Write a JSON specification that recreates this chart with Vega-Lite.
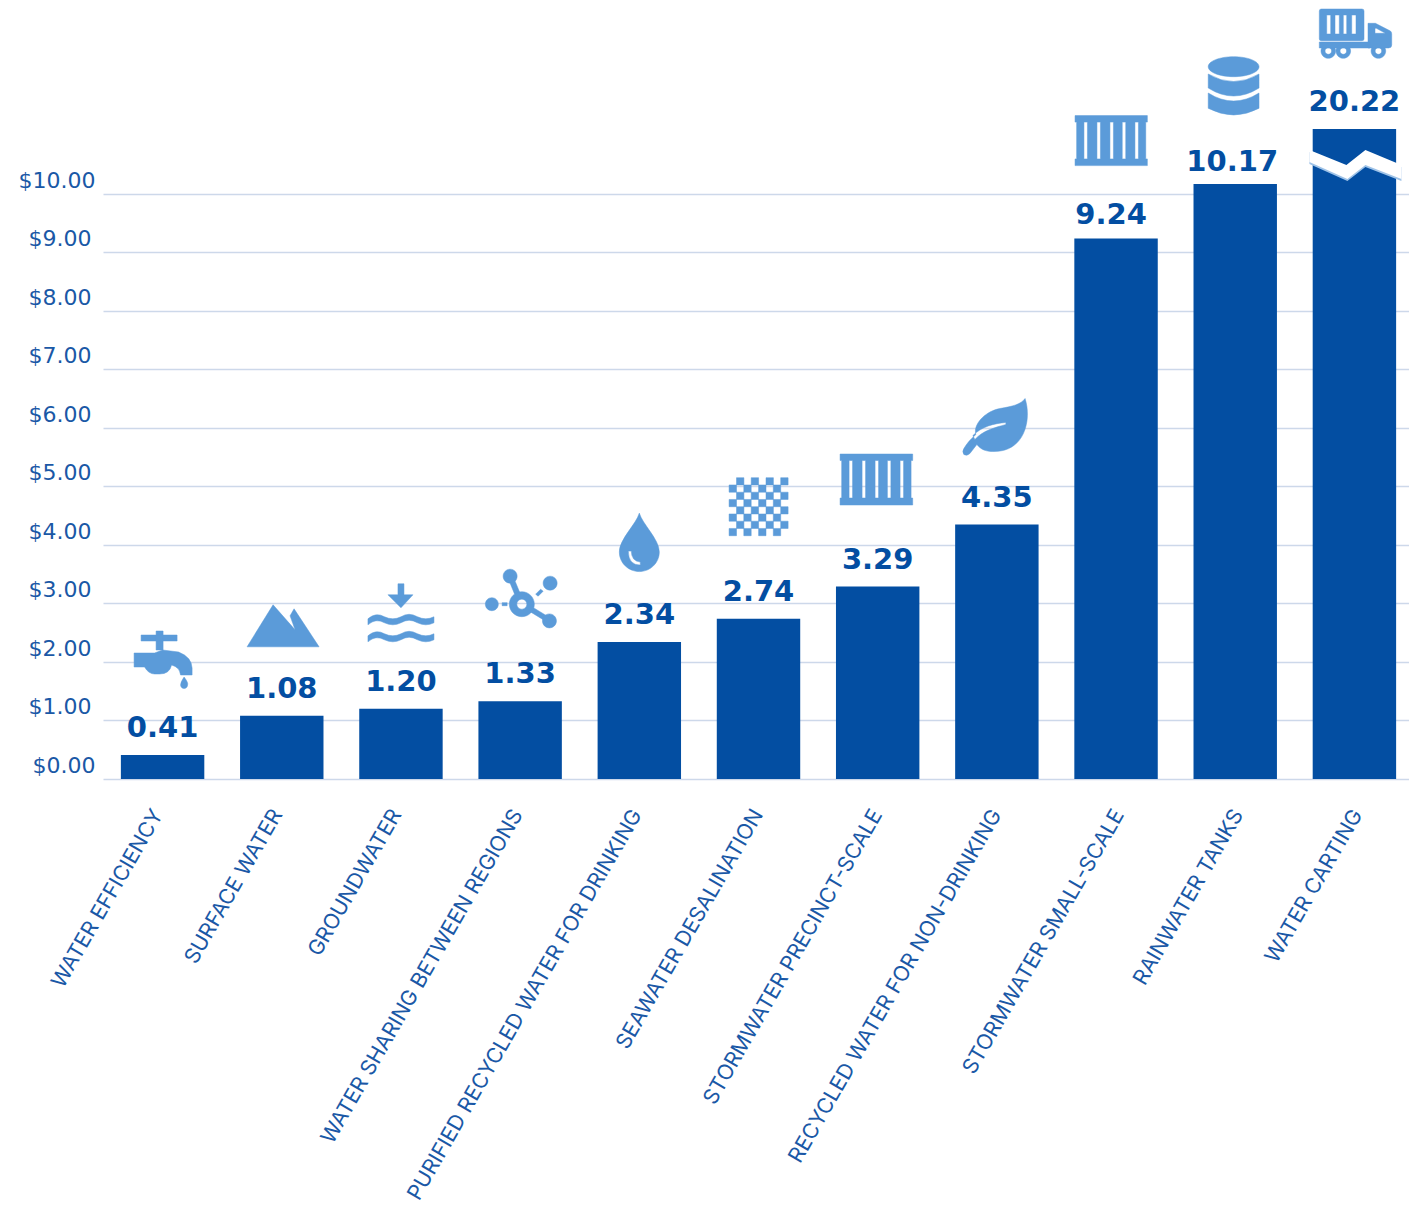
{
  "$schema": "https://vega.github.io/schema/vega-lite/v6.json",
  "width": 1306,
  "height": 779,
  "autosize": {"type": "none"},
  "padding": {"left": 103, "top": 0, "right": 0, "bottom": 431},
  "background": "white",
  "config": {"view": {"stroke": null}, "font": "Inter"},
  "data": {"values": [
    {"source": "WATER EFFICIENCY", "cost": 0.41, "icon": "tap"},
    {"source": "SURFACE WATER", "cost": 1.08, "icon": "mountain"},
    {"source": "GROUNDWATER", "cost": 1.20, "icon": "aquifer"},
    {"source": "WATER SHARING BETWEEN REGIONS", "cost": 1.33, "icon": "network"},
    {"source": "PURIFIED RECYCLED WATER FOR DRINKING", "cost": 2.34, "icon": "drop"},
    {"source": "SEAWATER DESALINATION", "cost": 2.74, "icon": "membrane"},
    {"source": "STORMWATER PRECINCT-SCALE", "cost": 3.29, "icon": "tank"},
    {"source": "RECYCLED WATER FOR NON-DRINKING", "cost": 4.35, "icon": "leaf"},
    {"source": "STORMWATER SMALL-SCALE", "cost": 9.24, "icon": "tankSmall"},
    {"source": "RAINWATER TANKS", "cost": 10.17, "icon": "barrel"},
    {"source": "WATER CARTING", "cost": 20.22, "icon": "truck"}
  ]},
  "encoding": {
    "x": {
      "field": "source",
      "type": "nominal",
      "sort": null,
      "title": null,
      "scale": {"range": [0, 1311], "paddingInner": 0.3, "paddingOuter": 0.15},
      "axis": {
        "domain": false,
        "ticks": false,
        "labelAngle": -60,
        "labelAlign": "right",
        "labelBaseline": "middle",
        "labelPadding": 32,
        "labelFont": "Inter",
        "labelFontSize": 21.2,
        "labelFontWeight": 400,
        "labelColor": "#1a58a6",
        "labelLimit": 600,
        "labelOverlap": false,
        "labelOffset": {"condition": [
          {"test": "datum.index < 0.3", "value": -4},
          {"test": "datum.index < 0.5", "value": -2},
          {"test": "datum.index < 0.75", "value": 0}
        ], "value": 3.5}
      }
    },
    "y": {
      "field": "cost",
      "type": "quantitative",
      "title": null,
      "scale": {"domain": [0, 10.17, 20.22], "range": [779, 184, 129], "nice": false, "zero": false},
      "axis": {
        "values": [0, 1, 2, 3, 4, 5, 6, 7, 8, 9, 10],
        "format": "$.2f",
        "domain": false,
        "ticks": false,
        "grid": true,
        "gridColor": "#cdd8ea",
        "gridWidth": 1.3,
        "labelFont": "DejaVu Sans",
        "labelFontSize": 22,
        "labelFontWeight": 400,
        "labelColor": "#1a58a6",
        "labelOffset": -13.5,
        "labelPadding": {"condition": {"test": "datum.value === 0 || datum.value === 10", "value": 8}, "value": 12}
      }
    }
  },
  "layer": [
    {"mark": {"type": "bar", "color": "#034ea2"}},
    {
      "transform": [{"filter": "datum.cost !== 9.24 && datum.cost !== 10.17"}],
      "mark": {"type": "text", "dy": -18, "baseline": "alphabetic", "font": "DejaVu Sans", "fontSize": 29, "fontWeight": 700, "color": "#034ea2"},
      "encoding": {"text": {"field": "cost", "type": "quantitative", "format": ".2f"}}
    },
    {
      "transform": [{"filter": "datum.cost === 9.24"}],
      "mark": {"type": "text", "dx": -5, "dy": -14, "baseline": "alphabetic", "font": "DejaVu Sans", "fontSize": 29, "fontWeight": 700, "color": "#034ea2"},
      "encoding": {"text": {"field": "cost", "type": "quantitative", "format": ".2f"}}
    },
    {
      "transform": [{"filter": "datum.cost === 10.17"}],
      "mark": {"type": "text", "dx": -3, "dy": -13, "baseline": "alphabetic", "font": "DejaVu Sans", "fontSize": 29, "fontWeight": 700, "color": "#034ea2"},
      "encoding": {"text": {"field": "cost", "type": "quantitative", "format": ".2f"}}
    },
    {
      "mark": {"type": "point", "filled": true, "size": 4, "opacity": 1, "color": "#5b9bd9", "stroke": "#5b9bd9", "strokeWidth": 0.5},
      "encoding": {
        "shape": {
          "field": "icon",
          "type": "nominal",
          "legend": null,
          "scale": {
            "domain": ["tap", "mountain", "aquifer", "network", "drop", "membrane", "tank", "leaf", "tankSmall", "barrel", "truck"],
            "range": [
              "M-21.5 -120H14.5V-114H-21.5Z M-6.5 -124H0.5V-105H-6.5Z M-28.5 -102H-8L0 -105L16 -103Q29 -98 29.5 -87V-80H18Q17 -88 9 -90Q7 -81 -3 -81H-8Q-14 -81 -18 -88H-28.5Z M21.5 -78Q26 -72 25 -70A3.5 3.5 0 0 1 18 -70Q18 -73 21.5 -78Z",
              "M-8.7 -111L13.3 -86L8.3 -100L12.3 -107L37.3 -69H-34.7Z",
              "M-3 -125H3V-114H12L0 -101L-13 -114H-3Z M-33 -90Q-25 -97 -16.5 -92Q-8 -88 0 -92Q8 -97 16.5 -92Q25 -88 33 -92V-86Q25 -82 16.5 -86Q8 -91 0 -86Q-8 -82 -16.5 -86Q-25 -91 -33 -84Z M-33 -73Q-25 -80 -16.5 -75Q-8 -71 0 -75Q8 -80 16.5 -75Q25 -71 33 -75V-69Q25 -65 16.5 -69Q8 -74 0 -69Q-8 -65 -16.5 -69Q-25 -74 -33 -67Z",
              "M-10.8 -97A12.5 12.5 0 1 1 14.2 -97A12.5 12.5 0 1 1 -10.8 -97Z M-3.3 -97A5 5 0 1 0 6.7 -97A5 5 0 1 0 -3.3 -97Z M-17 -125A7 7 0 1 1 -3 -125A7 7 0 1 1 -17 -125Z M23 -118A7 7 0 1 1 37 -118A7 7 0 1 1 23 -118Z M-34.8 -97A6.5 6.5 0 1 1 -21.8 -97A6.5 6.5 0 1 1 -34.8 -97Z M22.3 -80.3A7 7 0 1 1 36.3 -80.3A7 7 0 1 1 22.3 -80.3Z M-12.5 -124L-7.5 -126L-0.5 -109L-5.5 -107Z M12.5 -94L30.5 -83L28 -78.5L10 -89.5Z M-18 -98.5H-13V-95.5H-18Z M15.5 -107L20.5 -112L23 -110L18 -105Z",
              "M0 -129C3 -118 20 -103 20 -90A20 19.5 0 1 1 -20 -90C-20 -103 -3 -118 0 -129Z M-11 -91Q-11 -77 1 -77L1 -80Q-8 -81 -8 -91Z",
              "M-22 -141h7.4v7.25h-7.4z M-7.3 -141h7.4v7.25h-7.4z M7.5 -141h7.4v7.25h-7.4z M22.2 -141h7.4v7.25h-7.4z M-29.4 -133.75h7.4v7.25h-7.4z M-14.7 -133.75h7.4v7.25h-7.4z M0.1 -133.75h7.4v7.25h-7.4z M14.8 -133.75h7.4v7.25h-7.4z M-22 -126.5h7.4v7.25h-7.4z M-7.3 -126.5h7.4v7.25h-7.4z M7.5 -126.5h7.4v7.25h-7.4z M22.2 -126.5h7.4v7.25h-7.4z M-29.4 -119.25h7.4v7.25h-7.4z M-14.7 -119.25h7.4v7.25h-7.4z M0.1 -119.25h7.4v7.25h-7.4z M14.8 -119.25h7.4v7.25h-7.4z M-22 -112h7.4v7.25h-7.4z M-7.3 -112h7.4v7.25h-7.4z M7.5 -112h7.4v7.25h-7.4z M22.2 -112h7.4v7.25h-7.4z M-29.4 -104.75h7.4v7.25h-7.4z M-14.7 -104.75h7.4v7.25h-7.4z M0.1 -104.75h7.4v7.25h-7.4z M14.8 -104.75h7.4v7.25h-7.4z M-22 -97.5h7.4v7.25h-7.4z M-7.3 -97.5h7.4v7.25h-7.4z M7.5 -97.5h7.4v7.25h-7.4z M22.2 -97.5h7.4v7.25h-7.4z M-29.4 -90.25h7.4v7.25h-7.4z M-14.7 -90.25h7.4v7.25h-7.4z M0.1 -90.25h7.4v7.25h-7.4z M14.8 -90.25h7.4v7.25h-7.4z",
              "M-37.6 -132.5H35V-126H33.4V-88.5H35V-81.5H-37.6V-88.5H-36V-126H-37.6Z M-28.6 -126V-88.5H-25.1V-126Z M-15.6 -126V-88.5H-12.1V-126Z M-2.6 -126V-88.5H0.9V-126Z M9.7 -126V-88.5H13.2V-126Z M22.4 -126V-88.5H25.9V-126Z",
              "M28.2 -126C35 -105 28 -72 -4 -73C-11 -73 -16 -75 -20 -80L-27 -71Q-30 -68 -33 -70Q-35 -73 -33 -76C-28 -84 -25 -86 -21 -90C-24 -100 -12 -113 3 -116C15 -118 24 -120 28.2 -126Z M-22 -85C-14 -94 -2 -97 9 -100L9 -102C-3 -101 -15 -98 -24 -89Z",
              "M-41 -122.8H31.3V-116.3H29.7V-79.5H31.3V-72.8H-41V-79.5H-39.4V-116.3H-41Z M-32.1 -116.3V-79.5H-28.6V-116.3Z M-19.1 -116.3V-79.5H-15.6V-116.3Z M-6.1 -116.3V-79.5H-2.6V-116.3Z M6.2 -116.3V-79.5H9.7V-116.3Z M18.9 -116.3V-79.5H22.4V-116.3Z",
              "M-27 -117.3A25.4 10 0 1 1 23.8 -117.3A25.4 10 0 1 1 -27 -117.3Z M-27 -110Q-1.6 -95 23.8 -110V-96Q-1.6 -80 -27 -96Z M-27 -91Q-1.6 -75 23.8 -91V-75.7Q-1.6 -62.3 -27 -75.7Z",
              "M-33 -120H7.5Q9.6 -120 9.6 -118V-90Q9.6 -88.3 7.5 -88.3H-33Q-35.1 -88.3 -35.1 -90V-118Q-35.1 -120 -33 -120Z M-27.7 -114V-95H-23.7V-114Z M-19.4 -114V-95H-15.1V-114Z M-11.1 -114V-95H-7.7V-114Z M-2.7 -114V-95H1.6V-114Z M-35.1 -87H15.6V-81H-35.1Z M13.6 -105.7H21L36 -98Q37.3 -97 37.3 -95V-84Q37.3 -81 34 -81H13.6Z M20.6 -100.7V-95.7H31L22 -100.7Z M-33.4 -78A7.3 7.3 0 1 1 -18.8 -78A7.3 7.3 0 1 1 -33.4 -78Z M-29.4 -78A3.3 3.3 0 1 0 -22.8 -78A3.3 3.3 0 1 0 -29.4 -78Z M-18.4 -78A7.3 7.3 0 1 1 -3.8 -78A7.3 7.3 0 1 1 -18.4 -78Z M-14.4 -78A3.3 3.3 0 1 0 -7.8 -78A3.3 3.3 0 1 0 -14.4 -78Z M16.7 -78A7.3 7.3 0 1 1 31.3 -78A7.3 7.3 0 1 1 16.7 -78Z M20.7 -78A3.3 3.3 0 1 0 27.3 -78A3.3 3.3 0 1 0 20.7 -78Z"
            ]
          }
        }
      }
    },
    {
      "transform": [{"filter": "datum.cost > 20"}],
      "mark": {"type": "point", "filled": true, "size": 4, "opacity": 1, "color": "#9fc3e8", "shape": "M-45 23L-8 38L11 23L47 38V52L11 38L-7 52L-45 35Z"}
    },
    {
      "transform": [{"filter": "datum.cost > 20"}],
      "mark": {"type": "point", "filled": true, "size": 4, "opacity": 1, "color": "#ffffff", "shape": "M-45 21L-8 36L11 21L47 36V50L11 36L-7 50L-45 33Z"}
    }
  ]
}
